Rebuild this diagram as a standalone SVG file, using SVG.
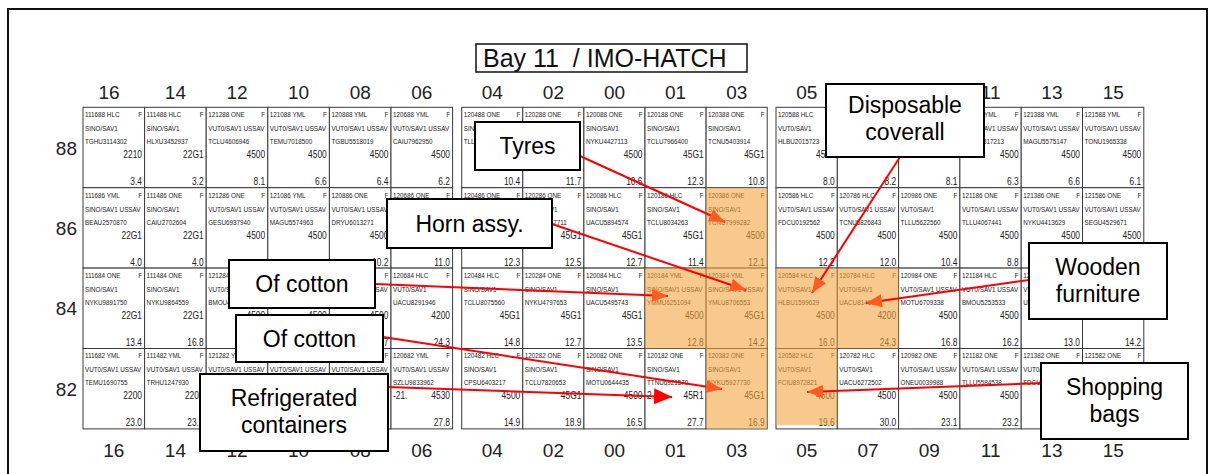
<svg xmlns="http://www.w3.org/2000/svg" width="1215" height="474" viewBox="0 0 1215 474">
<defs>
<style>
.frame{fill:none;stroke:#111;stroke-width:2}
.title rect{fill:#fff;stroke:#111;stroke-width:1.5}
.title text{font-family:"Liberation Sans",Arial,sans-serif;font-size:25px;fill:#111}
.hdr{font-family:"Liberation Sans",Arial,sans-serif;font-size:19px;fill:#222;text-anchor:middle}
.rl{font-family:"Liberation Sans",Arial,sans-serif;font-size:19px;fill:#222;text-anchor:end}
.cell rect{fill:#fff;stroke:#3a3a3a;stroke-width:1}
.cell text{transform:scale(0.8,1)}
.a{font-family:"Liberation Sans",Arial,sans-serif;font-size:7.9px;fill:#222}
.b{font-family:"Liberation Sans",Arial,sans-serif;font-size:10.5px;fill:#222}
.r{text-anchor:end}
.hl{fill:#F2A53F;opacity:0.6}
.conn line{stroke:#f00;stroke-width:2;fill:none}
.box rect{fill:#fff;stroke:#000;stroke-width:2}
.box text{font-family:"Liberation Sans",Arial,sans-serif;font-size:23px;fill:#000;text-anchor:middle}
</style>
<marker id="ah" markerUnits="userSpaceOnUse" markerWidth="18" markerHeight="14" refX="16" refY="6.5" orient="auto">
<path d="M0,0 L16,6.5 L0,13 z" fill="#FF5A1F"/>
</marker>
<marker id="ahr" markerUnits="userSpaceOnUse" markerWidth="20" markerHeight="18" refX="18" refY="8" orient="auto">
<path d="M0,0 L18,8 L0,16 z" fill="#FF0000"/>
</marker>
</defs>
<rect width="1215" height="474" fill="#fff"/>
<rect class="frame" x="8" y="9" width="1199" height="500"/>

<g class="title" id="title">
<rect x="476" y="44" width="271" height="28"/>
<text x="483" y="66.5" xml:space="preserve">Bay 11  / IMO-HATCH</text>
</g>

<g id="headers">
<text class="hdr" x="109" y="99">16</text><text class="hdr" x="175.4" y="99">14</text><text class="hdr" x="237" y="99">12</text><text class="hdr" x="298.6" y="99">10</text><text class="hdr" x="360.2" y="99">08</text><text class="hdr" x="421.8" y="99">06</text>
<text class="hdr" x="492.3" y="99">04</text><text class="hdr" x="553.4" y="99">02</text><text class="hdr" x="614.5" y="99">00</text><text class="hdr" x="675.6" y="99">01</text><text class="hdr" x="736.7" y="99">03</text>
<text class="hdr" x="806.7" y="99">05</text><text class="hdr" x="868" y="99">07</text><text class="hdr" x="929.3" y="99">09</text><text class="hdr" x="990.6" y="99">11</text><text class="hdr" x="1051.9" y="99">13</text><text class="hdr" x="1113.2" y="99">15</text>
<text class="hdr" x="113.8" y="457">16</text><text class="hdr" x="175.4" y="457">14</text><text class="hdr" x="237" y="457">12</text><text class="hdr" x="298.6" y="457">10</text><text class="hdr" x="360.2" y="457">08</text><text class="hdr" x="421.8" y="457">06</text>
<text class="hdr" x="492.3" y="457">04</text><text class="hdr" x="553.4" y="457">02</text><text class="hdr" x="614.5" y="457">00</text><text class="hdr" x="675.6" y="457">01</text><text class="hdr" x="736.7" y="457">03</text>
<text class="hdr" x="806.7" y="457">05</text><text class="hdr" x="868" y="457">07</text><text class="hdr" x="929.3" y="457">09</text><text class="hdr" x="990.6" y="457">11</text><text class="hdr" x="1051.9" y="457">13</text><text class="hdr" x="1113.2" y="457">15</text>
<text class="rl" x="77" y="155">88</text><text class="rl" x="77" y="235">86</text><text class="rl" x="77" y="315">84</text><text class="rl" x="77" y="396">82</text>
</g>

<!-- LEFT BLOCK (text x in pre-scale units: 2.5 left, 73.75 right) -->
<g class="cell" id="c16-88" transform="translate(83,107.3)"><rect width="61.6" height="80.4"/><text class="a"><tspan x="2.5" y="10">111688 HLC</tspan><tspan x="2.5" y="24">SINO/SAV1</tspan><tspan x="2.5" y="37">TGHU3114302</tspan></text><text class="a r" x="73.75" y="10">F</text><text class="b r"><tspan x="73.75" y="51">2210</tspan><tspan x="73.75" y="78">3.4</tspan></text></g>
<g class="cell" id="c14-88" transform="translate(144.6,107.3)"><rect width="61.6" height="80.4"/><text class="a"><tspan x="2.5" y="10">111488 HLC</tspan><tspan x="2.5" y="24">SINO/SAV1</tspan><tspan x="2.5" y="37">HLXU3452937</tspan></text><text class="a r" x="73.75" y="10">F</text><text class="b r"><tspan x="73.75" y="51">22G1</tspan><tspan x="73.75" y="78">3.2</tspan></text></g>
<g class="cell" id="c12-88" transform="translate(206.2,107.3)"><rect width="61.6" height="80.4"/><text class="a"><tspan x="2.5" y="10">121288 ONE</tspan><tspan x="2.5" y="24">VUT0/SAV1 USSAV</tspan><tspan x="2.5" y="37">TCLU4606946</tspan></text><text class="a r" x="73.75" y="10">F</text><text class="b r"><tspan x="73.75" y="51">4500</tspan><tspan x="73.75" y="78">8.1</tspan></text></g>
<g class="cell" id="c10-88" transform="translate(267.8,107.3)"><rect width="61.6" height="80.4"/><text class="a"><tspan x="2.5" y="10">121088 YML</tspan><tspan x="2.5" y="24">VUT0/SAV1 USSAV</tspan><tspan x="2.5" y="37">TEMU7018500</tspan></text><text class="a r" x="73.75" y="10">F</text><text class="b r"><tspan x="73.75" y="51">4500</tspan><tspan x="73.75" y="78">6.6</tspan></text></g>
<g class="cell" id="c08-88" transform="translate(329.4,107.3)"><rect width="61.6" height="80.4"/><text class="a"><tspan x="2.5" y="10">120888 YML</tspan><tspan x="2.5" y="24">VUT0/SAV1 USSAV</tspan><tspan x="2.5" y="37">TGBU5518019</tspan></text><text class="a r" x="73.75" y="10">F</text><text class="b r"><tspan x="73.75" y="51">4500</tspan><tspan x="73.75" y="78">6.4</tspan></text></g>
<g class="cell" id="c06-88" transform="translate(391,107.3)"><rect width="61.6" height="80.4"/><text class="a"><tspan x="2.5" y="10">120688 YML</tspan><tspan x="2.5" y="24">VUT0/SAV1 USSAV</tspan><tspan x="2.5" y="37">CAIU7962950</tspan></text><text class="a r" x="73.75" y="10">F</text><text class="b r"><tspan x="73.75" y="51">4500</tspan><tspan x="73.75" y="78">6.2</tspan></text></g>

<g class="cell" id="c16-86" transform="translate(83,187.7)"><rect width="61.6" height="80.4"/><text class="a"><tspan x="2.5" y="10">111686 YML</tspan><tspan x="2.5" y="24">SINO/SAV1 USSAV</tspan><tspan x="2.5" y="37">BEAU2570870</tspan></text><text class="a r" x="73.75" y="10">F</text><text class="b r"><tspan x="73.75" y="51">22G1</tspan><tspan x="73.75" y="78">4.0</tspan></text></g>
<g class="cell" id="c14-86" transform="translate(144.6,187.7)"><rect width="61.6" height="80.4"/><text class="a"><tspan x="2.5" y="10">111486 ONE</tspan><tspan x="2.5" y="24">SINO/SAV1</tspan><tspan x="2.5" y="37">CAIU2702604</tspan></text><text class="a r" x="73.75" y="10">F</text><text class="b r"><tspan x="73.75" y="51">22G1</tspan><tspan x="73.75" y="78">4.0</tspan></text></g>
<g class="cell" id="c12-86" transform="translate(206.2,187.7)"><rect width="61.6" height="80.4"/><text class="a"><tspan x="2.5" y="10">121286 ONE</tspan><tspan x="2.5" y="24">VUT0/SAV1 USSAV</tspan><tspan x="2.5" y="37">GESU6937940</tspan></text><text class="a r" x="73.75" y="10">F</text><text class="b r" x="73.75" y="51">4500</text></g>
<g class="cell" id="c10-86" transform="translate(267.8,187.7)"><rect width="61.6" height="80.4"/><text class="a"><tspan x="2.5" y="10">121086 YML</tspan><tspan x="2.5" y="24">VUT0/SAV1 USSAV</tspan><tspan x="2.5" y="37">MAGU5574963</tspan></text><text class="a r" x="73.75" y="10">F</text><text class="b r" x="73.75" y="51">4500</text></g>
<g class="cell" id="c08-86" transform="translate(329.4,187.7)"><rect width="61.6" height="80.4"/><text class="a"><tspan x="2.5" y="10">120886 ONE</tspan><tspan x="2.5" y="24">VUT0/SAV1 USSAV</tspan><tspan x="2.5" y="37">DRYU6013271</tspan></text><text class="a r" x="73.75" y="10">F</text><text class="b r"><tspan x="73.75" y="51">4500</tspan><tspan x="73.75" y="78">10.2</tspan></text></g>
<g class="cell" id="c06-86" transform="translate(391,187.7)"><rect width="61.6" height="80.4"/><text class="a" x="2.5" y="10">120686 ONE</text><text class="a r" x="73.75" y="10">F</text><text class="b r" x="73.75" y="78">11.0</text></g>

<g class="cell" id="c16-84" transform="translate(83,268.1)"><rect width="61.6" height="80.4"/><text class="a"><tspan x="2.5" y="10">111684 ONE</tspan><tspan x="2.5" y="24">SINO/SAV1</tspan><tspan x="2.5" y="37">NYKU9891750</tspan></text><text class="a r" x="73.75" y="10">F</text><text class="b r"><tspan x="73.75" y="51">22G1</tspan><tspan x="73.75" y="78">13.4</tspan></text></g>
<g class="cell" id="c14-84" transform="translate(144.6,268.1)"><rect width="61.6" height="80.4"/><text class="a"><tspan x="2.5" y="10">111484 ONE</tspan><tspan x="2.5" y="24">SINO/SAV1</tspan><tspan x="2.5" y="37">NYKU9864559</tspan></text><text class="a r" x="73.75" y="10">F</text><text class="b r"><tspan x="73.75" y="51">22G1</tspan><tspan x="73.75" y="78">16.8</tspan></text></g>
<g class="cell" id="c12-84" transform="translate(206.2,268.1)"><rect width="61.6" height="80.4"/><text class="a"><tspan x="2.5" y="10">121284 ONE</tspan><tspan x="2.5" y="24">VUT0/SAV1 USSAV</tspan><tspan x="2.5" y="37">BMOU4520631</tspan></text><text class="b r" x="73.75" y="51">4500</text></g>
<g class="cell" id="c10-84" transform="translate(267.8,268.1)"><rect width="61.6" height="80.4"/><text class="b r" x="73.75" y="51">4500</text></g>
<g class="cell" id="c08-84" transform="translate(329.4,268.1)"><rect width="61.6" height="80.4"/><text class="a"><tspan x="2.5" y="24">VUT0/SAV1 USSAV</tspan><tspan x="2.5" y="37">BMOU5312503</tspan></text><text class="a r" x="73.75" y="10">F</text><text class="b r"><tspan x="73.75" y="51">4500</tspan><tspan x="73.75" y="78">22.7</tspan></text></g>
<g class="cell" id="c06-84" transform="translate(391,268.1)"><rect width="61.6" height="80.4"/><text class="a"><tspan x="2.5" y="10">120684 HLC</tspan><tspan x="2.5" y="24">VUT0/SAV1</tspan><tspan x="2.5" y="37">UACU8291946</tspan></text><text class="a r" x="73.75" y="10">F</text><text class="b r"><tspan x="73.75" y="51">4200</tspan><tspan x="73.75" y="78">24.3</tspan></text></g>

<g class="cell" id="c16-82" transform="translate(83,348.5)"><rect width="61.6" height="80.4"/><text class="a"><tspan x="2.5" y="10">111682 YML</tspan><tspan x="2.5" y="24">VUT0/SAV1 USSAV</tspan><tspan x="2.5" y="37">TEMU1690755</tspan></text><text class="a r" x="73.75" y="10">F</text><text class="b r"><tspan x="73.75" y="51">2200</tspan><tspan x="73.75" y="78">23.0</tspan></text></g>
<g class="cell" id="c14-82" transform="translate(144.6,348.5)"><rect width="61.6" height="80.4"/><text class="a"><tspan x="2.5" y="10">111482 YML</tspan><tspan x="2.5" y="24">VUT0/SAV1 USSAV</tspan><tspan x="2.5" y="37">TRHU1247930</tspan></text><text class="a r" x="73.75" y="10">F</text><text class="b r"><tspan x="73.75" y="51">2200</tspan><tspan x="73.75" y="78">23.0</tspan></text></g>
<g class="cell" id="c12-82" transform="translate(206.2,348.5)"><rect width="61.6" height="80.4"/><text class="a"><tspan x="2.5" y="10">121282 YML</tspan><tspan x="2.5" y="24">VUT0/SAV1 USSAV</tspan></text></g>
<g class="cell" id="c10-82" transform="translate(267.8,348.5)"><rect width="61.6" height="80.4"/><text class="a" x="2.5" y="24">VUT0/SAV1 USSAV</text></g>
<g class="cell" id="c08-82" transform="translate(329.4,348.5)"><rect width="61.6" height="80.4"/><text class="a" x="2.5" y="24">VUT0/SAV1 USSAV</text><text class="a r" x="73.75" y="10">F</text></g>
<g class="cell" id="c06-82" transform="translate(391,348.5)"><rect width="61.6" height="80.4"/><text class="a"><tspan x="2.5" y="10">120682 YML</tspan><tspan x="2.5" y="24">VUT0/SAV1 USSAV</tspan><tspan x="2.5" y="37">SZLU9833962</tspan></text><text class="a r" x="73.75" y="10">F</text><text class="b" x="2.5" y="51">-21.</text><text class="b r"><tspan x="73.75" y="51">4530</tspan><tspan x="73.75" y="78">27.8</tspan></text></g>

<!-- MIDDLE BLOCK (right x 73.25) -->
<g class="cell" id="c04-88" transform="translate(461.7,107.3)"><rect width="61.1" height="80.4"/><text class="a"><tspan x="2.5" y="10">120488 ONE</tspan><tspan x="2.5" y="24">SINO/SAV1</tspan><tspan x="2.5" y="37">TLLU4501932</tspan></text><text class="a r" x="73.25" y="10">F</text><text class="b r" x="73.25" y="78">10.4</text></g>
<g class="cell" id="c02-88" transform="translate(522.8,107.3)"><rect width="61.1" height="80.4"/><text class="a" x="2.5" y="10">120288 ONE</text><text class="a r" x="73.25" y="10">F</text><text class="b r" x="73.25" y="78">11.7</text></g>
<g class="cell" id="c00-88" transform="translate(583.9,107.3)"><rect width="61.1" height="80.4"/><text class="a"><tspan x="2.5" y="10">120088 ONE</tspan><tspan x="2.5" y="24">SINO/SAV1</tspan><tspan x="2.5" y="37">NYKU4427113</tspan></text><text class="a r" x="73.25" y="10">F</text><text class="b r"><tspan x="73.25" y="51">4500</tspan><tspan x="73.25" y="78">10.6</tspan></text></g>
<g class="cell" id="c01-88" transform="translate(645,107.3)"><rect width="61.1" height="80.4"/><text class="a"><tspan x="2.5" y="10">120188 ONE</tspan><tspan x="2.5" y="24">SINO/SAV1</tspan><tspan x="2.5" y="37">TCLU7966400</tspan></text><text class="a r" x="73.25" y="10">F</text><text class="b r"><tspan x="73.25" y="51">45G1</tspan><tspan x="73.25" y="78">12.3</tspan></text></g>
<g class="cell" id="c03-88" transform="translate(706.1,107.3)"><rect width="61.1" height="80.4"/><text class="a"><tspan x="2.5" y="10">120388 ONE</tspan><tspan x="2.5" y="24">SINO/SAV1</tspan><tspan x="2.5" y="37">TCNU5403914</tspan></text><text class="a r" x="73.25" y="10">F</text><text class="b r"><tspan x="73.25" y="51">45G1</tspan><tspan x="73.25" y="78">10.8</tspan></text></g>

<g class="cell" id="c04-86" transform="translate(461.7,187.7)"><rect width="61.1" height="80.4"/><text class="a" x="2.5" y="10">120486 ONE</text><text class="a r" x="73.25" y="10">F</text><text class="b r" x="73.25" y="78">12.3</text></g>
<g class="cell" id="c02-86" transform="translate(522.8,187.7)"><rect width="61.1" height="80.4"/><text class="a"><tspan x="2.5" y="10">120286 ONE</tspan><tspan x="2.5" y="24">SINO/SAV1</tspan><tspan x="2.5" y="37">UACU5247711</tspan></text><text class="a r" x="73.25" y="10">F</text><text class="b r"><tspan x="73.25" y="51">45G1</tspan><tspan x="73.25" y="78">12.5</tspan></text></g>
<g class="cell" id="c00-86" transform="translate(583.9,187.7)"><rect width="61.1" height="80.4"/><text class="a"><tspan x="2.5" y="10">120086 HLC</tspan><tspan x="2.5" y="24">SINO/SAV1</tspan><tspan x="2.5" y="37">UACU5894574</tspan></text><text class="a r" x="73.25" y="10">F</text><text class="b r"><tspan x="73.25" y="51">45G1</tspan><tspan x="73.25" y="78">12.7</tspan></text></g>
<g class="cell" id="c01-86" transform="translate(645,187.7)"><rect width="61.1" height="80.4"/><text class="a"><tspan x="2.5" y="10">120186 HLC</tspan><tspan x="2.5" y="24">SINO/SAV1</tspan><tspan x="2.5" y="37">TCLU8034263</tspan></text><text class="a r" x="73.25" y="10">F</text><text class="b r"><tspan x="73.25" y="51">45G1</tspan><tspan x="73.25" y="78">11.4</tspan></text></g>
<g class="cell" id="c03-86" transform="translate(706.1,187.7)"><rect width="61.1" height="80.4"/><text class="a"><tspan x="2.5" y="10">120386 ONE</tspan><tspan x="2.5" y="24">SINO/SAV1</tspan><tspan x="2.5" y="37">TCNU7999282</tspan></text><text class="a r" x="73.25" y="10">F</text><text class="b r"><tspan x="73.25" y="51">4500</tspan><tspan x="73.25" y="78">12.1</tspan></text></g>

<g class="cell" id="c04-84" transform="translate(461.7,268.1)"><rect width="61.1" height="80.4"/><text class="a"><tspan x="2.5" y="10">120484 HLC</tspan><tspan x="2.5" y="24">SINO/SAV1</tspan><tspan x="2.5" y="37">TCLU8075560</tspan></text><text class="a r" x="73.25" y="10">F</text><text class="b r"><tspan x="73.25" y="51">45G1</tspan><tspan x="73.25" y="78">14.8</tspan></text></g>
<g class="cell" id="c02-84" transform="translate(522.8,268.1)"><rect width="61.1" height="80.4"/><text class="a"><tspan x="2.5" y="10">120284 ONE</tspan><tspan x="2.5" y="24">SINO/SAV1</tspan><tspan x="2.5" y="37">NYKU4797653</tspan></text><text class="a r" x="73.25" y="10">F</text><text class="b r"><tspan x="73.25" y="51">45G1</tspan><tspan x="73.25" y="78">12.7</tspan></text></g>
<g class="cell" id="c00-84" transform="translate(583.9,268.1)"><rect width="61.1" height="80.4"/><text class="a"><tspan x="2.5" y="10">120084 HLC</tspan><tspan x="2.5" y="24">SINO/SAV1</tspan><tspan x="2.5" y="37">UACU5495743</tspan></text><text class="a r" x="73.25" y="10">F</text><text class="b r"><tspan x="73.25" y="51">45G1</tspan><tspan x="73.25" y="78">13.5</tspan></text></g>
<g class="cell" id="c01-84" transform="translate(645,268.1)"><rect width="61.1" height="80.4"/><text class="a"><tspan x="2.5" y="10">120184 YML</tspan><tspan x="2.5" y="24">SINO/SAV1 USSAV</tspan><tspan x="2.5" y="37">YMMU6251094</tspan></text><text class="a r" x="73.25" y="10">F</text><text class="b r"><tspan x="73.25" y="51">4500</tspan><tspan x="73.25" y="78">12.8</tspan></text></g>
<g class="cell" id="c03-84" transform="translate(706.1,268.1)"><rect width="61.1" height="80.4"/><text class="a"><tspan x="2.5" y="10">120384 YML</tspan><tspan x="2.5" y="24">SINO/SAV1 USSAV</tspan><tspan x="2.5" y="37">YMLU8706553</tspan></text><text class="a r" x="73.25" y="10">F</text><text class="b r"><tspan x="73.25" y="51">45G1</tspan><tspan x="73.25" y="78">14.2</tspan></text></g>

<g class="cell" id="c04-82" transform="translate(461.7,348.5)"><rect width="61.1" height="80.4"/><text class="a"><tspan x="2.5" y="10">120482 HLC</tspan><tspan x="2.5" y="24">SINO/SAV1</tspan><tspan x="2.5" y="37">CPSU6403217</tspan></text><text class="a r" x="73.25" y="10">F</text><text class="b r"><tspan x="73.25" y="51">4500</tspan><tspan x="73.25" y="78">14.9</tspan></text></g>
<g class="cell" id="c02-82" transform="translate(522.8,348.5)"><rect width="61.1" height="80.4"/><text class="a"><tspan x="2.5" y="10">120282 ONE</tspan><tspan x="2.5" y="24">SINO/SAV1</tspan><tspan x="2.5" y="37">TCLU7820653</tspan></text><text class="a r" x="73.25" y="10">F</text><text class="b r"><tspan x="73.25" y="51">45G1</tspan><tspan x="73.25" y="78">18.9</tspan></text></g>
<g class="cell" id="c00-82" transform="translate(583.9,348.5)"><rect width="61.1" height="80.4"/><text class="a"><tspan x="2.5" y="10">120082 ONE</tspan><tspan x="2.5" y="24">SINO/SAV1</tspan><tspan x="2.5" y="37">MOTU0644435</tspan></text><text class="a r" x="73.25" y="10">F</text><text class="b r"><tspan x="73.25" y="51">4500</tspan><tspan x="73.25" y="78">16.5</tspan></text></g>
<g class="cell" id="c01-82" transform="translate(645,348.5)"><rect width="61.1" height="80.4"/><text class="a"><tspan x="2.5" y="10">120182 ONE</tspan><tspan x="2.5" y="24">SINO/SAV1</tspan><tspan x="2.5" y="37">TTNU6921570</tspan></text><text class="a r" x="73.25" y="10">F</text><text class="b" x="2.5" y="51">2.</text><text class="b r"><tspan x="73.25" y="51">45R1</tspan><tspan x="73.25" y="78">27.7</tspan></text></g>
<g class="cell" id="c03-82" transform="translate(706.1,348.5)"><rect width="61.1" height="80.4"/><text class="a"><tspan x="2.5" y="10">120382 ONE</tspan><tspan x="2.5" y="24">SINO/SAV1</tspan><tspan x="2.5" y="37">NYKU5927730</tspan></text><text class="a r" x="73.25" y="10">F</text><text class="b r"><tspan x="73.25" y="51">45G1</tspan><tspan x="73.25" y="78">16.9</tspan></text></g>

<!-- RIGHT BLOCK (right x 73.5) -->
<g class="cell" id="c05-88" transform="translate(776,107.3)"><rect width="61.3" height="80.4"/><text class="a"><tspan x="2.5" y="10">120588 HLC</tspan><tspan x="2.5" y="24">VUT0/SAV1</tspan><tspan x="2.5" y="37">HLBU2015723</tspan></text><text class="b r"><tspan x="73.5" y="51">4500</tspan><tspan x="73.5" y="78">8.0</tspan></text></g>
<g class="cell" id="c07-88" transform="translate(837.3,107.3)"><rect width="61.3" height="80.4"/><text class="b r"><tspan x="73.5" y="51">4500</tspan><tspan x="73.5" y="78">8.2</tspan></text></g>
<g class="cell" id="c09-88" transform="translate(898.6,107.3)"><rect width="61.3" height="80.4"/><text class="b r"><tspan x="73.5" y="51">4500</tspan><tspan x="73.5" y="78">8.1</tspan></text></g>
<g class="cell" id="c11-88" transform="translate(959.9,107.3)"><rect width="61.3" height="80.4"/><text class="a"><tspan x="2.5" y="10">121188 YML</tspan><tspan x="2.5" y="24">VUT0/SAV1 USSAV</tspan><tspan x="2.5" y="37">TGBU6317213</tspan></text><text class="a r" x="73.5" y="10">F</text><text class="b r"><tspan x="73.5" y="51">4500</tspan><tspan x="73.5" y="78">6.3</tspan></text></g>
<g class="cell" id="c13-88" transform="translate(1021.2,107.3)"><rect width="61.3" height="80.4"/><text class="a"><tspan x="2.5" y="10">121388 YML</tspan><tspan x="2.5" y="24">VUT0/SAV1 USSAV</tspan><tspan x="2.5" y="37">MAGU5575147</tspan></text><text class="a r" x="73.5" y="10">F</text><text class="b r"><tspan x="73.5" y="51">4500</tspan><tspan x="73.5" y="78">6.6</tspan></text></g>
<g class="cell" id="c15-88" transform="translate(1082.5,107.3)"><rect width="61.3" height="80.4"/><text class="a"><tspan x="2.5" y="10">121588 YML</tspan><tspan x="2.5" y="24">VUT0/SAV1 USSAV</tspan><tspan x="2.5" y="37">TONU1965338</tspan></text><text class="a r" x="73.5" y="10">F</text><text class="b r"><tspan x="73.5" y="51">4500</tspan><tspan x="73.5" y="78">6.1</tspan></text></g>

<g class="cell" id="c05-86" transform="translate(776,187.7)"><rect width="61.3" height="80.4"/><text class="a"><tspan x="2.5" y="10">120586 HLC</tspan><tspan x="2.5" y="24">VUT0/SAV1 USSAV</tspan><tspan x="2.5" y="37">FDCU0192562</tspan></text><text class="a r" x="73.5" y="10">F</text><text class="b r"><tspan x="73.5" y="51">4500</tspan><tspan x="73.5" y="78">12.2</tspan></text></g>
<g class="cell" id="c07-86" transform="translate(837.3,187.7)"><rect width="61.3" height="80.4"/><text class="a"><tspan x="2.5" y="10">120786 HLC</tspan><tspan x="2.5" y="24">VUT0/SAV1 USSAV</tspan><tspan x="2.5" y="37">TCNU5826843</tspan></text><text class="a r" x="73.5" y="10">F</text><text class="b r"><tspan x="73.5" y="51">4500</tspan><tspan x="73.5" y="78">12.0</tspan></text></g>
<g class="cell" id="c09-86" transform="translate(898.6,187.7)"><rect width="61.3" height="80.4"/><text class="a"><tspan x="2.5" y="10">120986 ONE</tspan><tspan x="2.5" y="24">VUT0/SAV1</tspan><tspan x="2.5" y="37">TLLU5622560</tspan></text><text class="a r" x="73.5" y="10">F</text><text class="b r"><tspan x="73.5" y="51">4500</tspan><tspan x="73.5" y="78">10.4</tspan></text></g>
<g class="cell" id="c11-86" transform="translate(959.9,187.7)"><rect width="61.3" height="80.4"/><text class="a"><tspan x="2.5" y="10">121186 ONE</tspan><tspan x="2.5" y="24">VUT0/SAV1 USSAV</tspan><tspan x="2.5" y="37">TLLU4067441</tspan></text><text class="a r" x="73.5" y="10">F</text><text class="b r"><tspan x="73.5" y="51">4500</tspan><tspan x="73.5" y="78">8.8</tspan></text></g>
<g class="cell" id="c13-86" transform="translate(1021.2,187.7)"><rect width="61.3" height="80.4"/><text class="a"><tspan x="2.5" y="10">121386 ONE</tspan><tspan x="2.5" y="24">VUT0/SAV1 USSAV</tspan><tspan x="2.5" y="37">NYKU4413629</tspan></text><text class="a r" x="73.5" y="10">F</text><text class="b r" x="73.5" y="51">4500</text></g>
<g class="cell" id="c15-86" transform="translate(1082.5,187.7)"><rect width="61.3" height="80.4"/><text class="a"><tspan x="2.5" y="10">121586 ONE</tspan><tspan x="2.5" y="24">VUT0/SAV1 USSAV</tspan><tspan x="2.5" y="37">SEGU4529671</tspan></text><text class="a r" x="73.5" y="10">F</text><text class="b r" x="73.5" y="51">4500</text></g>

<g class="cell" id="c05-84" transform="translate(776,268.1)"><rect width="61.3" height="80.4"/><text class="a"><tspan x="2.5" y="10">120584 HLC</tspan><tspan x="2.5" y="24">VUT0/SAV1</tspan><tspan x="2.5" y="37">HLBU1599629</tspan></text><text class="a r" x="73.5" y="10">F</text><text class="b r"><tspan x="73.5" y="51">4500</tspan><tspan x="73.5" y="78">16.0</tspan></text></g>
<g class="cell" id="c07-84" transform="translate(837.3,268.1)"><rect width="61.3" height="80.4"/><text class="a"><tspan x="2.5" y="10">120784 HLC</tspan><tspan x="2.5" y="24">VUT0/SAV1</tspan><tspan x="2.5" y="37">UACU8146589</tspan></text><text class="a r" x="73.5" y="10">F</text><text class="b r"><tspan x="73.5" y="51">4200</tspan><tspan x="73.5" y="78">24.3</tspan></text></g>
<g class="cell" id="c09-84" transform="translate(898.6,268.1)"><rect width="61.3" height="80.4"/><text class="a"><tspan x="2.5" y="10">120984 ONE</tspan><tspan x="2.5" y="24">VUT0/SAV1 USSAV</tspan><tspan x="2.5" y="37">MOTU6709338</tspan></text><text class="a r" x="73.5" y="10">F</text><text class="b r"><tspan x="73.5" y="51">4500</tspan><tspan x="73.5" y="78">16.8</tspan></text></g>
<g class="cell" id="c11-84" transform="translate(959.9,268.1)"><rect width="61.3" height="80.4"/><text class="a"><tspan x="2.5" y="10">121184 HLC</tspan><tspan x="2.5" y="24">VUT0/SAV1 USSAV</tspan><tspan x="2.5" y="37">BMOU5253533</tspan></text><text class="a r" x="73.5" y="10">F</text><text class="b r"><tspan x="73.5" y="51">4500</tspan><tspan x="73.5" y="78">16.2</tspan></text></g>
<g class="cell" id="c13-84" transform="translate(1021.2,268.1)"><rect width="61.3" height="80.4"/><text class="a"><tspan x="2.5" y="10">121384 ONE</tspan><tspan x="2.5" y="24">VUT0/SAV1 USSAV</tspan><tspan x="2.5" y="37">UACU5120836</tspan></text><text class="b r" x="73.5" y="78">13.0</text></g>
<g class="cell" id="c15-84" transform="translate(1082.5,268.1)"><rect width="61.3" height="80.4"/><text class="b r" x="73.5" y="78">14.2</text></g>

<g class="cell" id="c05-82" transform="translate(776,348.5)"><rect width="61.3" height="80.4"/><text class="a"><tspan x="2.5" y="10">120582 HLC</tspan><tspan x="2.5" y="24">VUT0/SAV1</tspan><tspan x="2.5" y="37">FCIU8972821</tspan></text><text class="a r" x="73.5" y="10">F</text><text class="b r"><tspan x="73.5" y="51">4500</tspan><tspan x="73.5" y="78">19.6</tspan></text></g>
<g class="cell" id="c07-82" transform="translate(837.3,348.5)"><rect width="61.3" height="80.4"/><text class="a"><tspan x="2.5" y="10">120782 HLC</tspan><tspan x="2.5" y="24">VUT0/SAV1</tspan><tspan x="2.5" y="37">UACU6272502</tspan></text><text class="a r" x="73.5" y="10">F</text><text class="b r"><tspan x="73.5" y="51">4500</tspan><tspan x="73.5" y="78">30.0</tspan></text></g>
<g class="cell" id="c09-82" transform="translate(898.6,348.5)"><rect width="61.3" height="80.4"/><text class="a"><tspan x="2.5" y="10">120982 ONE</tspan><tspan x="2.5" y="24">VUT0/SAV1 USSAV</tspan><tspan x="2.5" y="37">ONEU0039988</tspan></text><text class="a r" x="73.5" y="10">F</text><text class="b r"><tspan x="73.5" y="51">4500</tspan><tspan x="73.5" y="78">23.1</tspan></text></g>
<g class="cell" id="c11-82" transform="translate(959.9,348.5)"><rect width="61.3" height="80.4"/><text class="a"><tspan x="2.5" y="10">121182 ONE</tspan><tspan x="2.5" y="24">VUT0/SAV1 USSAV</tspan><tspan x="2.5" y="37">TLLU5584538</tspan></text><text class="a r" x="73.5" y="10">F</text><text class="b r"><tspan x="73.5" y="51">4500</tspan><tspan x="73.5" y="78">23.2</tspan></text></g>
<g class="cell" id="c13-82" transform="translate(1021.2,348.5)"><rect width="61.3" height="80.4"/><text class="a"><tspan x="2.5" y="10">121382 ONE</tspan><tspan x="2.5" y="24">VUT0/SAV1</tspan><tspan x="2.5" y="37">FDCU0310244</tspan></text><text class="a r" x="73.5" y="10">F</text></g>
<g class="cell" id="c15-82" transform="translate(1082.5,348.5)"><rect width="61.3" height="80.4"/><text class="a" x="2.5" y="10">121582 ONE</text><text class="a r" x="73.5" y="10">F</text></g>

<g id="highlights">
<rect class="hl" x="706.1" y="187.7" width="61.1" height="241.2"/>
<rect class="hl" x="645" y="268.1" width="61.1" height="80.4"/>
<rect class="hl" x="776" y="268.1" width="61.3" height="157"/>
<rect class="hl" x="837.3" y="268.1" width="61.3" height="80.4"/>
</g>

<g class="conn" id="connectors">
<line x1="580" y1="156" x2="725" y2="222" marker-end="url(#ah)"/>
<line x1="552" y1="224" x2="746" y2="290" marker-end="url(#ah)"/>
<line x1="375" y1="284" x2="668" y2="296" marker-end="url(#ah)"/>
<line x1="383" y1="337" x2="722" y2="389" marker-end="url(#ah)"/>
<line x1="388" y1="387" x2="672" y2="397" marker-end="url(#ahr)"/>
<line x1="900" y1="157" x2="812" y2="293" marker-end="url(#ah)"/>
<line x1="1029" y1="280" x2="866" y2="303" marker-end="url(#ah)"/>
<line x1="1041" y1="383" x2="807" y2="392" marker-end="url(#ah)"/>
</g>

<g class="box" id="n-tyres"><rect x="475" y="122" width="105" height="48"/><text x="527.5" y="154">Tyres</text></g>
<g class="box" id="n-disposable"><rect x="826" y="84" width="158" height="73"/><text x="905" y="113">Disposable</text><text x="905" y="140">coverall</text></g>
<g class="box" id="n-horn"><rect x="387" y="199" width="165" height="49"/><text x="469.5" y="232">Horn assy.</text></g>
<g class="box" id="n-cotton1"><rect x="229" y="260" width="146" height="48"/><text x="302" y="292">Of cotton</text></g>
<g class="box" id="n-cotton2"><rect x="236" y="315" width="147" height="47"/><text x="309.5" y="347">Of cotton</text></g>
<g class="box" id="n-reefer"><rect x="200" y="374" width="188" height="77"/><text x="294" y="406">Refrigerated</text><text x="294" y="433">containers</text></g>
<g class="box" id="n-wooden"><rect x="1029" y="243" width="138" height="76"/><text x="1098" y="275">Wooden</text><text x="1098" y="302">furniture</text></g>
<g class="box" id="n-shopping"><rect x="1041" y="363" width="147" height="76"/><text x="1114.5" y="395">Shopping</text><text x="1114.5" y="422">bags</text></g>
</svg>
